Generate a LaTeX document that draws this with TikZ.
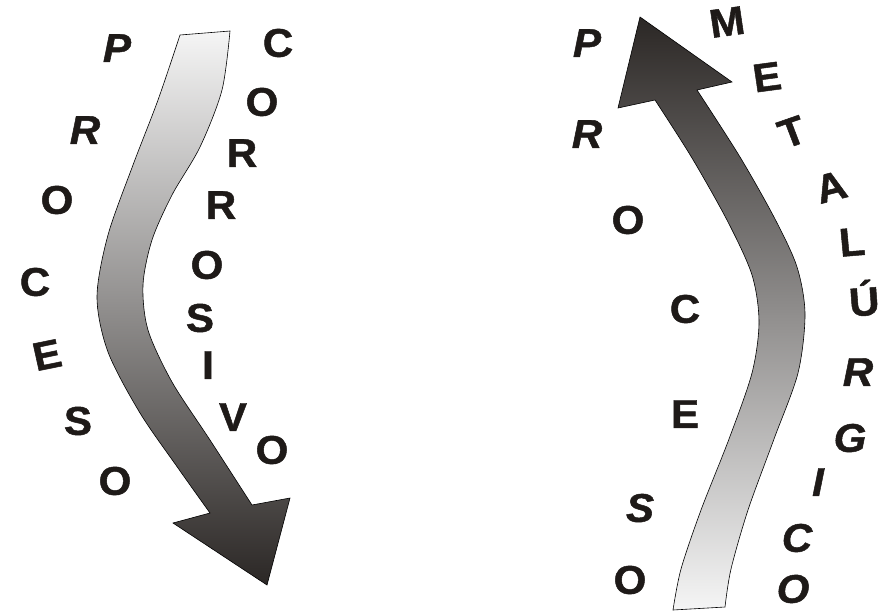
\documentclass[tikz,border=0pt]{standalone}
\usepackage{fontspec}
\setmainfont{Liberation Sans}[BoldFeatures={FakeBold=1.2}, BoldItalicFeatures={FakeBold=1.2}]
\definecolor{claro}{HTML}{F5F5F5}
\definecolor{oscuro}{HTML}{2B2725}
\definecolor{tinta}{HTML}{1E1A18}
\tikzset{
  recta/.style={font=\bfseries\fontsize{40}{40}\selectfont, text=tinta, inner sep=0pt, xscale=1.05},
  cursiva/.style={recta, font=\bfseries\itshape\fontsize{40}{40}\selectfont},
  flecha/.style={draw=black, line width=0.6pt},
}

\begin{document}
\begin{tikzpicture}[x=1pt, y=-1pt]
    \useasboundingbox (0,0) rectangle (883,611);
    % 左箭头：自上而下，由浅变深
    \shade[flecha, top color=claro, bottom color=oscuro]
        (180,35) -- plot[smooth] coordinates {(230,31) (222,90) (200,147) (172,195) (152,240) (143,285) (148,330) (172,382) (210,440) (252,505)}
        -- (290,498) -- (267,585) -- (173,523)
        -- plot[smooth] coordinates {(210,513) (178,468) (140,413) (108,352) (97,297) (108,235) (133,165) (158,100) (180,35)} -- cycle;
    % 右箭头：自下而上，由浅变深
    \shade[flecha, top color=oscuro, bottom color=claro]
        (640,17) -- (732,82)
        -- plot[smooth] coordinates {(697,90) (740,157) (775,219) (797,267) (805,314) (798,373) (774,439) (748,510) (731,569) (725,607)}
        -- plot[smooth] coordinates {(673,610) (681,569) (701,510) (729,439) (752,373) (759,322) (752,275) (728,222) (692,158) (655,100)}
        -- (618,108) -- cycle;
    % 左侧文字
    \foreach \l/\x/\y/\r/\s [count=\i] in {P/117/48/0/cursiva, R/85/130/0/cursiva, O/57/200/0/recta, C/35/282/0/recta,
        E/47/355/12/recta, S/78/421/0/recta, O/115/481/0/recta}
        \node[\s, rotate=\r] (izq-\i) at (\x,\y) {\l};
    \foreach \l/\x/\y/\r/\s [count=\i] in {C/278/43/0/recta, O/262/102/0/recta, R/242/153/0/recta, R/221/205/0/recta,
        O/207/265/0/recta, S/200/318/0/recta, I/208/365/0/recta, V/233/417/0/recta, O/272/450/0/recta}
        \node[\s, rotate=\r] (cor-\i) at (\x,\y) {\l};
    % 右侧文字
    \foreach \l/\x/\y/\r/\s [count=\i] in {P/587/43/0/cursiva, R/587/134/0/cursiva, O/628/220/0/recta, C/685/309/0/recta,
        E/685/414/0/recta, S/640/508/0/cursiva, O/630/580/0/recta}
        \node[\s, rotate=\r] (der-\i) at (\x,\y) {\l};
    \foreach \l/\x/\y/\r/\s [count=\i] in {M/727/22/8/recta, E/767/77/8/recta, T/792/132/20/recta, A/831/187/15/recta,
        L/852/242/5/recta, Ú/864/298/4/recta, R/858/372/0/cursiva, G/850/438/0/cursiva, I/818/482/0/cursiva,
        C/797/538/0/cursiva, O/793/589/0/cursiva}
        \node[\s, rotate=\r] (met-\i) at (\x,\y) {\l};
\end{tikzpicture}
\end{document}
